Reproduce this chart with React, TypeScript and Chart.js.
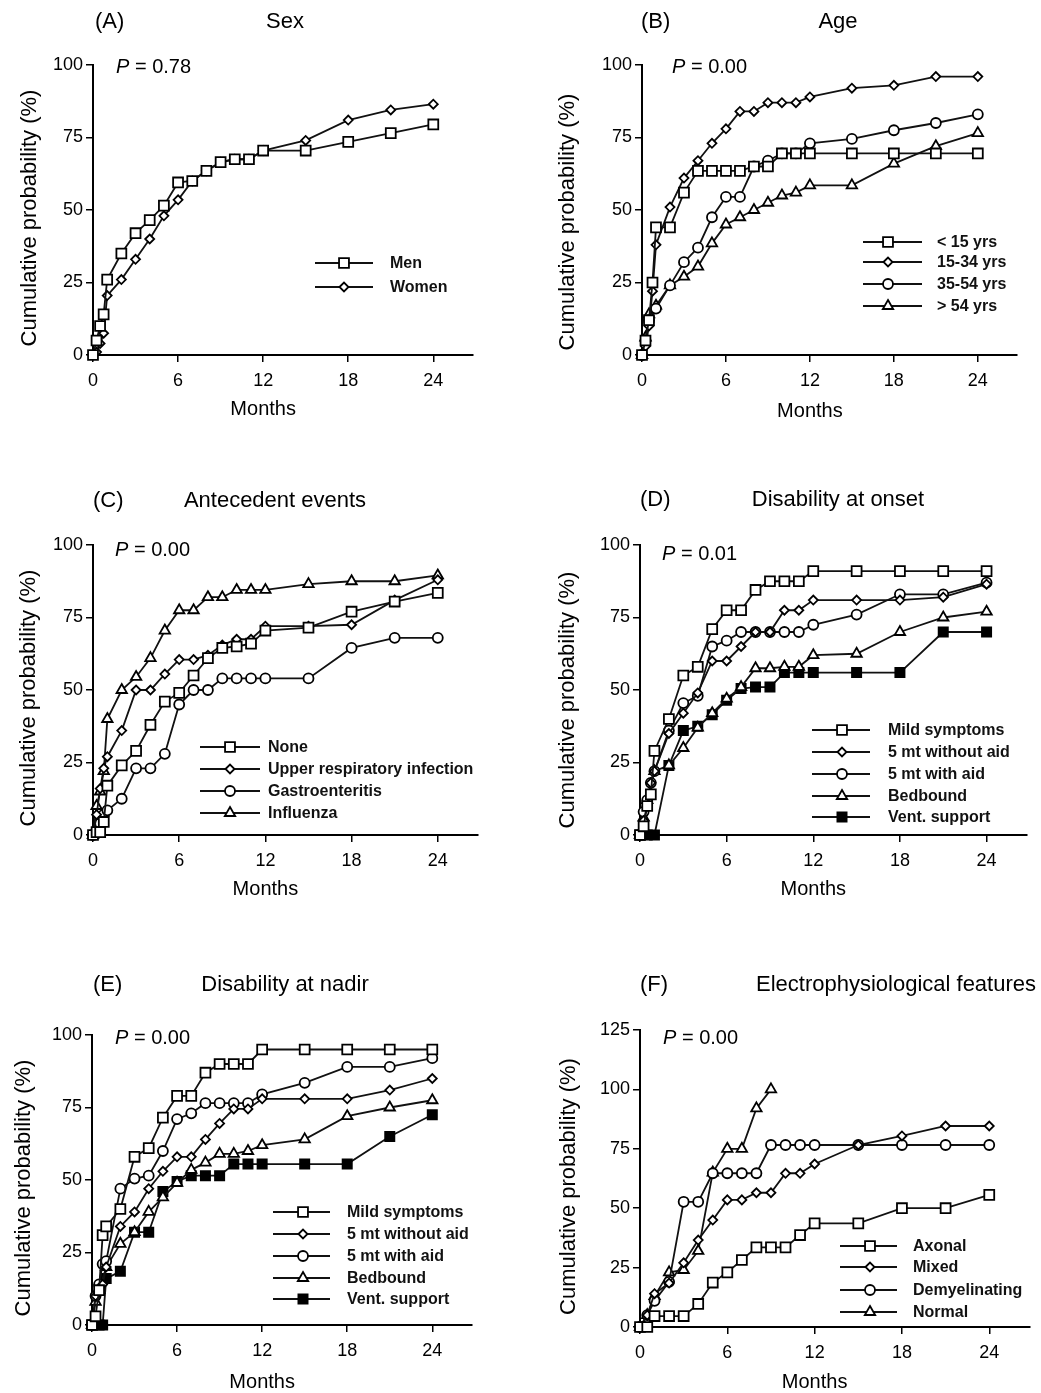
import React, { useEffect, useRef } from 'react';
import { Chart, registerables } from 'chart.js';

Chart.register(...registerables);

const FONT = "'Liberation Sans', Arial, Helvetica, sans-serif";

// ---------- tick labels ----------
const X_TICKS = [0, 6, 12, 18, 24];
const Y_TICKS = [0, 25, 50, 75, 100];
const Y_TICKS_F = [0, 25, 50, 75, 100, 125];

// ---------- (A) Sex ----------
const A_X = [0, 0.25, 0.5, 0.75, 1, 2, 3, 4, 5, 6, 7, 8, 9, 10, 11, 12, 15, 18, 21, 24];
const A_MEN = [0, 5, 10, 14, 26, 35, 42, 46.5, 51.5, 59.5, 60, 63.5, 66.5, 67.5, 67.5, 70.5, 70.5, 73.5, 76.5, 79.5];
const A_WOMEN = [0, 1, 4, 7.5, 20.5, 26, 33, 40, 48, 53.5, 60, 63.5, 66.5, 67.5, 67.5, 70.5, 74, 81, 84.5, 86.5];

// ---------- (B) Age ----------
const B_X = [0, 0.25, 0.5, 0.75, 1, 2, 3, 4, 5, 6, 7, 8, 9, 10, 11, 12, 15, 18, 21, 24];
const B_LT15 = [0, 5, 12, 25, 44, 44, 56, 63.5, 63.5, 63.5, 63.5, 65, 65, 69.5, 69.5, 69.5, 69.5, 69.5, 69.5, 69.5];
const B_15_34 = [0, 3, 10, 22, 38, 51, 61, 67, 73, 78, 84, 84, 87, 87, 87, 89, 92, 93, 96, 96];
const B_OLD_X = [0, 0.25, 0.5, 1, 2, 3, 4, 5, 6, 7, 8, 9, 10, 11, 12, 15, 18, 21, 24];
const B_35_54 = [0, 5, 12, 16, 24, 32, 37, 47.5, 54.5, 54.5, 65, 67, 69.5, 69.5, 73, 74.5, 77.5, 80, 83];
const B_GT54 = [0, 6, 14, 17, 24, 27, 30.5, 38.5, 45, 47.5, 50, 52.5, 55, 56, 58.5, 58.5, 66, 72, 76.5];

// ---------- (C) Antecedent events ----------
const C_X = [0, 0.25, 0.5, 0.75, 1, 2, 3, 4, 5, 6, 7, 8, 9, 10, 11, 12, 15, 18, 21, 24];
const C_NONE = [0, 1, 1, 4.5, 17, 24, 29, 38, 46, 49, 55, 61, 64.5, 65, 66, 70.5, 71.5, 77, 80.5, 83.5];
const C_URI = [0, 7, 16, 23, 27, 36, 50, 50, 55.5, 60.5, 60.5, 62, 65.5, 67.5, 67.5, 72, 72, 72.5, 81, 88];
const C_GASTRO = [0, 1, 4, 7, 8.5, 12.5, 23, 23, 28, 45, 50, 50, 54, 54, 54, 54, 54, 64.5, 68, 68];
const C_FLU = [0, 10, 15, 22, 40, 50, 54.5, 61, 70.5, 77.5, 77.5, 82, 82, 84.5, 84.5, 84.5, 86.5, 87.5, 87.5, 89.5];

// ---------- (D) Disability at onset ----------
const D_X = [0, 0.25, 0.5, 0.75, 1, 2, 3, 4, 5, 6, 7, 8, 9, 10, 11, 12, 15, 18, 21, 24];
const D_MILD = [0, 3, 10, 14, 29, 40, 55, 58, 71, 77.5, 77.5, 84.5, 87.5, 87.5, 87.5, 91, 91, 91, 91, 91];
const D_NOAID = [0, 5, 10, 18, 22, 35, 42, 49, 60, 60, 65, 70, 70, 77.5, 77.5, 81, 81, 81, 82, 86.5];
const D_AID = [0, 8, 12, 18, 22, 36, 45.5, 48, 65, 67, 70, 70, 70, 70, 70, 72.5, 76, 83, 83, 87];
const D_BED_X = [0, 0.25, 0.5, 1, 2, 3, 4, 5, 6, 7, 8, 9, 10, 11, 12, 15, 18, 21, 24];
const D_BED = [0, 6, 12, 22, 24, 30, 37, 42, 47, 51, 57.5, 57.5, 58, 58, 62, 62.5, 70, 75, 77];
const D_VENT_X = [0, 0.5, 1, 2, 3, 4, 5, 6, 7, 8, 9, 10, 11, 12, 15, 18, 21, 24];
const D_VENT = [0, 0, 0, 24, 36, 37.5, 41.5, 46.5, 50.5, 51, 51, 56, 56, 56, 56, 56, 70, 70];

// ---------- (E) Disability at nadir ----------
const E_X = [0, 0.25, 0.5, 0.75, 1, 2, 3, 4, 5, 6, 7, 8, 9, 10, 11, 12, 15, 18, 21, 24];
const E_MILD = [0, 3, 12, 31, 34, 40, 58, 61, 71.5, 79, 79, 87, 90, 90, 90, 95, 95, 95, 95, 95];
const E_NOAID = [0, 10, 12, 14, 20, 34, 39, 47, 53, 58, 58, 64, 69.5, 74.5, 74.5, 78, 78, 78, 81, 85];
const E_AID = [0, 10, 14, 21, 22, 47, 50.5, 51.5, 60, 71, 73, 76.5, 76.5, 76.5, 76.5, 79.5, 83.5, 89, 89, 92];
const E_BED_X = [0, 0.25, 0.5, 1, 2, 3, 4, 5, 6, 7, 8, 9, 10, 11, 12, 15, 18, 21, 24];
const E_BED = [0, 8, 12, 20, 28, 32, 39, 44, 49, 53.5, 56, 59, 59, 60, 62, 64, 72, 75, 77.5];
const E_VENT_X = [0, 0.5, 0.75, 1, 2, 3, 4, 5, 6, 7, 8, 9, 10, 11, 12, 15, 18, 21, 24];
const E_VENT = [0, 0, 0, 16, 18.5, 32, 32, 46, 49.5, 51.5, 51.5, 51.5, 55.5, 55.5, 55.5, 55.5, 55.5, 65, 72.5];

// ---------- (F) Electrophysiological features ----------
const F_X = [0, 0.5, 1, 2, 3, 4, 5, 6, 7, 8, 9, 10, 11, 12, 15, 18, 21, 24];
const F_AXONAL = [0, 0, 4.6, 4.6, 4.6, 9.7, 18.7, 23, 28.2, 33.5, 33.5, 33.5, 38.7, 43.6, 43.6, 50, 50, 55.6];
const F_MIXED = [0, 5, 14, 18.5, 27, 36.6, 45, 53.5, 53.5, 56.5, 56.5, 64.7, 64.7, 68.6, 76.6, 80.4, 84.6, 84.6];
const F_DEMYEL = [0, 5, 11, 19, 52.7, 52.7, 64.7, 64.7, 64.7, 64.7, 76.6, 76.6, 76.6, 76.6, 76.6, 76.6, 76.6, 76.6];
const F_NORMAL_X = [0, 0.5, 1, 2, 3, 4, 5, 6, 7, 8, 9];
const F_NORMAL = [0, 5, 13, 23, 24, 32, 65, 75, 75, 92, 100];

type MarkerKind = 'square' | 'diamond' | 'circle' | 'triangle' | 'filled';

interface Series { label: string; xs: number[]; ys: number[]; marker: MarkerKind; }

const MARK: Record<MarkerKind, { style: any; r: number; fill: string }> = {
  square: { style: 'rect', r: 7, fill: '#fff' },
  filled: { style: 'rect', r: 6.5, fill: '#000' },
  diamond: { style: 'rectRot', r: 4.5, fill: '#fff' },
  circle: { style: 'circle', r: 5, fill: '#fff' },
  triangle: { style: 'triangle', r: 6, fill: '#fff' },
};

interface PanelCfg {
  letter: string; title: string; letterX: number; titleCX: number; titleY: number;
  pValue: string; pX: number; pY: number;
  box: { left: number; top: number; width: number; height: number };
  area: { left: number; right: number; top: number; bottom: number };
  yMax: number; yTicks: number[];
  yTitleX: number; yTitleDY: number; monthsY: number;
  legend: { x1: number; x2: number; mx: number; tx: number; rows: number[] };
  series: Series[];
}

const PANELS: PanelCfg[] = [
  {
    letter: '(A)', title: 'Sex', letterX: 95, titleCX: 285, titleY: 22,
    pValue: '0.78', pX: 116, pY: 67,
    box: { left: 0, top: 0, width: 520, height: 440 },
    area: { left: 93, right: 473, top: 65, bottom: 355 },
    yMax: 100, yTicks: Y_TICKS, yTitleX: 30, yTitleDY: 8, monthsY: 409,
    legend: { x1: 315, x2: 373, mx: 344, tx: 390, rows: [263, 287] },
    series: [
      { label: 'Men', xs: A_X, ys: A_MEN, marker: 'square' },
      { label: 'Women', xs: A_X, ys: A_WOMEN, marker: 'diamond' },
    ],
  },
  {
    letter: '(B)', title: 'Age', letterX: 641, titleCX: 838, titleY: 22,
    pValue: '0.00', pX: 672, pY: 67,
    box: { left: 520, top: 0, width: 521, height: 440 },
    area: { left: 642, right: 1017, top: 65, bottom: 355 },
    yMax: 100, yTicks: Y_TICKS, yTitleX: 568, yTitleDY: 12, monthsY: 411,
    legend: { x1: 863, x2: 922, mx: 888, tx: 937, rows: [242, 262, 284, 306] },
    series: [
      { label: '< 15 yrs', xs: B_X, ys: B_LT15, marker: 'square' },
      { label: '15-34 yrs', xs: B_X, ys: B_15_34, marker: 'diamond' },
      { label: '35-54 yrs', xs: B_OLD_X, ys: B_35_54, marker: 'circle' },
      { label: '> 54 yrs', xs: B_OLD_X, ys: B_GT54, marker: 'triangle' },
    ],
  },
  {
    letter: '(C)', title: 'Antecedent events', letterX: 93, titleCX: 275, titleY: 501,
    pValue: '0.00', pX: 115, pY: 550,
    box: { left: 0, top: 440, width: 520, height: 480 },
    area: { left: 93, right: 478, top: 545, bottom: 835 },
    yMax: 100, yTicks: Y_TICKS, yTitleX: 29, yTitleDY: 8, monthsY: 889,
    legend: { x1: 200, x2: 260, mx: 230, tx: 268, rows: [747, 769, 791, 813] },
    series: [
      { label: 'None', xs: C_X, ys: C_NONE, marker: 'square' },
      { label: 'Upper respiratory infection', xs: C_X, ys: C_URI, marker: 'diamond' },
      { label: 'Gastroenteritis', xs: C_X, ys: C_GASTRO, marker: 'circle' },
      { label: 'Influenza', xs: C_X, ys: C_FLU, marker: 'triangle' },
    ],
  },
  {
    letter: '(D)', title: 'Disability at onset', letterX: 640, titleCX: 838, titleY: 500,
    pValue: '0.01', pX: 662, pY: 554,
    box: { left: 520, top: 440, width: 521, height: 480 },
    area: { left: 640, right: 1027, top: 545, bottom: 835 },
    yMax: 100, yTicks: Y_TICKS, yTitleX: 568, yTitleDY: 10, monthsY: 889,
    legend: { x1: 812, x2: 870, mx: 842, tx: 888, rows: [730, 752, 774, 796, 817] },
    series: [
      { label: 'Mild symptoms', xs: D_X, ys: D_MILD, marker: 'square' },
      { label: '5 mt without aid', xs: D_X, ys: D_NOAID, marker: 'diamond' },
      { label: '5 mt with aid', xs: D_X, ys: D_AID, marker: 'circle' },
      { label: 'Bedbound', xs: D_BED_X, ys: D_BED, marker: 'triangle' },
      { label: 'Vent. support', xs: D_VENT_X, ys: D_VENT, marker: 'filled' },
    ],
  },
  {
    letter: '(E)', title: 'Disability at nadir', letterX: 93, titleCX: 285, titleY: 985,
    pValue: '0.00', pX: 115, pY: 1038,
    box: { left: 0, top: 920, width: 520, height: 473 },
    area: { left: 92, right: 472, top: 1035, bottom: 1325 },
    yMax: 100, yTicks: Y_TICKS, yTitleX: 24, yTitleDY: 8, monthsY: 1382,
    legend: { x1: 273, x2: 330, mx: 303, tx: 347, rows: [1212, 1234, 1256, 1278, 1299] },
    series: [
      { label: 'Mild symptoms', xs: E_X, ys: E_MILD, marker: 'square' },
      { label: '5 mt without aid', xs: E_X, ys: E_NOAID, marker: 'diamond' },
      { label: '5 mt with aid', xs: E_X, ys: E_AID, marker: 'circle' },
      { label: 'Bedbound', xs: E_BED_X, ys: E_BED, marker: 'triangle' },
      { label: 'Vent. support', xs: E_VENT_X, ys: E_VENT, marker: 'filled' },
    ],
  },
  {
    letter: '(F)', title: 'Electrophysiological features', letterX: 640, titleCX: 896, titleY: 985,
    pValue: '0.00', pX: 663, pY: 1038,
    box: { left: 520, top: 920, width: 521, height: 473 },
    area: { left: 640, right: 1030, top: 1030, bottom: 1327 },
    yMax: 125, yTicks: Y_TICKS_F, yTitleX: 569, yTitleDY: 8, monthsY: 1382,
    legend: { x1: 840, x2: 897, mx: 870, tx: 913, rows: [1246, 1267, 1290, 1312] },
    series: [
      { label: 'Axonal', xs: F_X, ys: F_AXONAL, marker: 'square' },
      { label: 'Mixed', xs: F_X, ys: F_MIXED, marker: 'diamond' },
      { label: 'Demyelinating', xs: F_X, ys: F_DEMYEL, marker: 'circle' },
      { label: 'Normal', xs: F_NORMAL_X, ys: F_NORMAL, marker: 'triangle' },
    ],
  },
];

const X_MAX = 26.8;
const WY = 60;
const HX = 50;

function drawMarker(ctx: CanvasRenderingContext2D, kind: MarkerKind, x: number, y: number) {
  const m = MARK[kind];
  const r = m.r;
  ctx.save();
  ctx.lineWidth = 1.8;
  ctx.strokeStyle = '#000';
  ctx.fillStyle = m.fill;
  ctx.beginPath();
  if (kind === 'square' || kind === 'filled') {
    const s = Math.SQRT1_2 * r;
    ctx.rect(x - s, y - s, 2 * s, 2 * s);
  } else if (kind === 'diamond') {
    ctx.moveTo(x - r, y); ctx.lineTo(x, y - r); ctx.lineTo(x + r, y); ctx.lineTo(x, y + r); ctx.closePath();
  } else if (kind === 'circle') {
    ctx.arc(x, y, r, 0, Math.PI * 2);
  } else {
    let a = 0;
    ctx.moveTo(x + Math.sin(a) * r, y - Math.cos(a) * r);
    a += (2 * Math.PI) / 3;
    ctx.lineTo(x + Math.sin(a) * r, y - Math.cos(a) * r);
    a += (2 * Math.PI) / 3;
    ctx.lineTo(x + Math.sin(a) * r, y - Math.cos(a) * r);
    ctx.closePath();
  }
  ctx.fill();
  ctx.stroke();
  ctx.restore();
}

function Panel({ cfg }: { cfg: PanelCfg }) {
  const ref = useRef<HTMLCanvasElement>(null);
  useEffect(() => {
    const c = cfg;
    const canvas = ref.current!;
    const ox = c.box.left;
    const oy = c.box.top;
    const pad = {
      left: c.area.left - c.box.left - WY,
      right: c.box.left + c.box.width - c.area.right,
      top: c.area.top - c.box.top,
      bottom: c.box.top + c.box.height - c.area.bottom - HX,
    };
    const textPlugin = {
      id: 'panelText',
      afterDraw(chart: any) {
        const ctx: CanvasRenderingContext2D = chart.ctx;
        ctx.save();
        ctx.fillStyle = '#000';
        ctx.textBaseline = 'middle';
        // title
        ctx.font = `22px ${FONT}`;
        ctx.textAlign = 'left';
        ctx.fillText(c.letter, c.letterX - ox, c.titleY - oy);
        ctx.textAlign = 'center';
        ctx.fillText(c.title, c.titleCX - ox, c.titleY - oy);
        // P value
        ctx.textAlign = 'left';
        ctx.font = `italic 20px ${FONT}`;
        ctx.fillText('P', c.pX - ox, c.pY - oy);
        const pw = ctx.measureText('P').width;
        ctx.font = `20px ${FONT}`;
        ctx.fillText(' = ' + c.pValue, c.pX - ox + pw, c.pY - oy);
        // y-axis title
        const ca = chart.chartArea;
        ctx.save();
        ctx.translate(c.yTitleX - ox, (ca.top + ca.bottom) / 2 + c.yTitleDY);
        ctx.rotate(-Math.PI / 2);
        ctx.textAlign = 'center';
        ctx.font = `22px ${FONT}`;
        ctx.fillText('Cumulative probability (%)', 0, 0);
        ctx.restore();
        // x-axis title
        const xs = chart.scales.x;
        ctx.textAlign = 'center';
        ctx.font = `20px ${FONT}`;
        ctx.fillText('Months', xs.getPixelForValue(12), c.monthsY - oy);
        // legend
        ctx.font = `bold 16px ${FONT}`;
        ctx.textAlign = 'left';
        c.series.forEach((s, i) => {
          const ry = c.legend.rows[i] - oy;
          ctx.save();
          ctx.strokeStyle = '#111';
          ctx.lineWidth = 1.8;
          ctx.beginPath();
          ctx.moveTo(c.legend.x1 - ox, ry);
          ctx.lineTo(c.legend.x2 - ox, ry);
          ctx.stroke();
          ctx.restore();
          drawMarker(ctx, s.marker, c.legend.mx - ox, ry);
          ctx.fillStyle = '#111';
          ctx.fillText(s.label, c.legend.tx - ox, ry + 1);
        });
        ctx.restore();
      },
    };
    const chart = new Chart(canvas, {
      type: 'line',
      data: {
        datasets: c.series.map((s) => ({
          label: s.label,
          data: s.xs.map((x, i) => ({ x, y: s.ys[i] })),
          borderColor: '#111',
          borderWidth: 1.8,
          pointStyle: MARK[s.marker].style,
          pointRadius: MARK[s.marker].r,
          pointBackgroundColor: MARK[s.marker].fill,
          pointBorderColor: '#000',
          pointBorderWidth: 1.8,
          tension: 0,
          fill: false,
          clip: false as any,
        })),
      },
      options: {
        animation: false,
        responsive: false,
        devicePixelRatio: 1,
        events: [],
        layout: { padding: pad, autoPadding: false } as any,
        plugins: { legend: { display: false }, tooltip: { enabled: false }, title: { display: false } },
        scales: {
          x: {
            type: 'linear',
            min: 0,
            max: X_MAX,
            afterBuildTicks: (s: any) => { s.ticks = X_TICKS.map((v) => ({ value: v })); },
            afterFit: (s: any) => { s.height = HX; },
            ticks: { font: { family: FONT, size: 18 }, color: '#000', padding: 8, maxRotation: 0, autoSkip: false },
            grid: { display: true, drawOnChartArea: false, drawTicks: true, tickLength: 7, color: '#000', lineWidth: 1.5 },
            border: { display: true, color: '#000', width: 2 },
          },
          y: {
            type: 'linear',
            min: 0,
            max: c.yMax,
            afterBuildTicks: (s: any) => { s.ticks = c.yTicks.map((v) => ({ value: v })); },
            afterFit: (s: any) => { s.width = WY; },
            ticks: { font: { family: FONT, size: 18 }, color: '#000', padding: 3 },
            grid: { display: true, drawOnChartArea: false, drawTicks: true, tickLength: 7, color: '#000', lineWidth: 1.5 },
            border: { display: true, color: '#000', width: 2 },
          },
        },
      },
      plugins: [textPlugin],
    });
    return () => chart.destroy();
  }, [cfg]);
  return (
    <canvas
      ref={ref}
      width={cfg.box.width}
      height={cfg.box.height}
      style={{ position: 'absolute', left: cfg.box.left, top: cfg.box.top, width: cfg.box.width, height: cfg.box.height }}
    />
  );
}

export default function App() {
  return (
    <div style={{ position: 'absolute', left: 0, top: 0, width: 1041, height: 1393, background: '#fff' }}>
      {PANELS.map((p) => (
        <Panel key={p.letter} cfg={p} />
      ))}
    </div>
  );
}
